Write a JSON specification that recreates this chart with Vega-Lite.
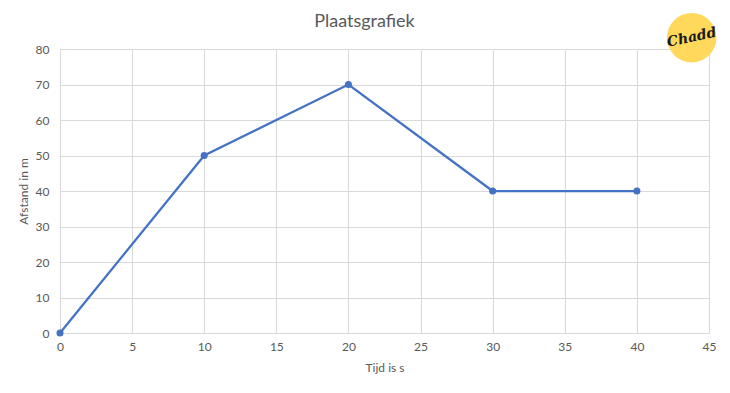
{
  "$schema": "https://vega.github.io/schema/vega-lite/v6.json",
  "width": 649,
  "height": 284,
  "autosize": {"type": "none"},
  "padding": {"left": 60, "top": 49, "right": 21, "bottom": 60},
  "background": "white",
  "title": {
    "text": "Plaatsgrafiek",
    "font": "Lato",
    "fontSize": 18,
    "fontWeight": "normal",
    "color": "#595959",
    "anchor": "middle",
    "dx": -20,
    "offset": 14,
    "dy": 32
  },
  "config": {
    "view": {"stroke": null},
    "axis": {
      "labelFont": "Lato",
      "titleFont": "Lato",
      "labelFontSize": 12,
      "titleFontSize": 12,
      "labelColor": "#595959",
      "titleColor": "#595959",
      "titleFontWeight": "normal",
      "gridColor": "#d9d9d9",
      "domainColor": "#d9d9d9",
      "ticks": false,
      "labelOverlap": false
    }
  },
  "encoding": {
    "x": {"field": "t", "type": "quantitative", "scale": {"domain": [0, 45], "nice": false}, "axis": {"values": [0,5,10,15,20,25,30,35,40,45], "title": "Tijd is s", "labelPadding": 8, "titlePadding": 10, "labelFlush": false}},
    "y": {"field": "d", "type": "quantitative", "scale": {"domain": [0, 80], "nice": false}, "axis": {"values": [0,10,20,30,40,50,60,70,80], "title": "Afstand in m", "labelPadding": 11, "titlePadding": 5, "labelFlush": false}}
  },
  "layer": [
    {
      "data": {"values": [
        {"t": 0, "d": 0},
        {"t": 10, "d": 50},
        {"t": 20, "d": 70},
        {"t": 30, "d": 40},
        {"t": 40, "d": 40}
      ]},
      "mark": {"type": "line", "color": "#4472C4", "strokeWidth": 2.25, "point": {"filled": true, "size": 50, "color": "#4472C4"}}
    },
    {
      "data": {"values": [{"t": 43.8, "d": 83.2, "logo": "Chadd"}]},
      "layer": [
        {
          "mark": {"type": "point", "filled": true, "size": 2450, "color": "#FFD85C", "opacity": 1, "clip": false}
        },
        {
          "mark": {"type": "text", "font": "DejaVu Serif", "fontStyle": "italic", "fontSize": 14, "fontWeight": "bold", "color": "#1a1a1a", "angle": -12, "clip": false},
          "encoding": {"text": {"field": "logo"}}
        }
      ]
    }
  ]
}
